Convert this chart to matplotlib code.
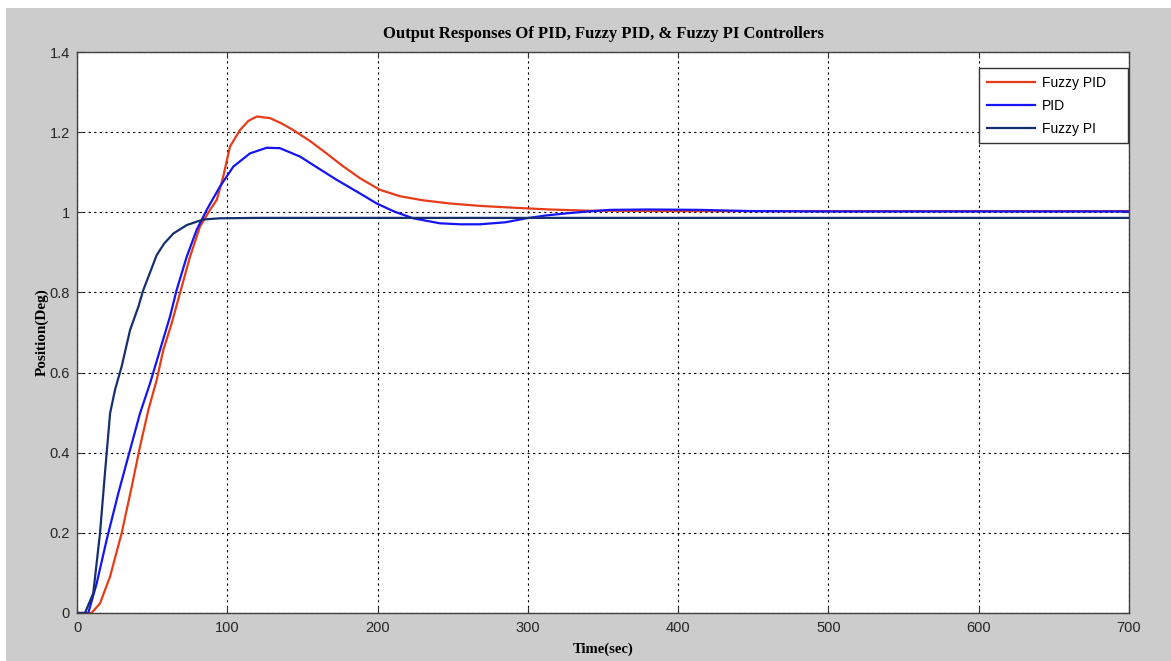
import matplotlib.pyplot as plt
from matplotlib.patches import Rectangle

# time (sec) and responses
t_fpid = [0, 9.7, 15.3, 22, 29.7, 36.4, 41.9, 47.5, 53, 57.4, 63, 68.5, 75.2, 81.8,
          88.5, 93, 97.3, 101.8, 108.4, 114, 119.6, 128.4, 136, 144, 155, 166, 177,
          188.3, 201.6, 215, 230, 248, 268, 292.5, 314.7, 340, 400, 500, 600, 700]
y_fpid = [0, 0, 0.024, 0.091, 0.199, 0.315, 0.415, 0.507, 0.581, 0.656, 0.723, 0.798,
          0.889, 0.964, 1.006, 1.031, 1.089, 1.164, 1.205, 1.228, 1.239, 1.235, 1.222,
          1.205, 1.178, 1.147, 1.115, 1.085, 1.056, 1.040, 1.030, 1.022, 1.016, 1.011,
          1.007, 1.004, 1.003, 1.003, 1.003, 1.003]

t_pid = [0, 7.5, 13.1, 19.7, 27.5, 35.3, 41.9, 48.6, 55.2, 61.9, 66.3, 73, 79.6, 86.3,
         95.1, 104, 115.1, 126.2, 135, 148.4, 166, 172.8, 188.3, 199.4, 211, 223.7,
         241.5, 255, 268, 285, 299, 312, 326, 340, 354.6, 380, 414, 448, 500, 600, 700]
y_pid = [0, 0, 0.074, 0.182, 0.299, 0.407, 0.498, 0.573, 0.656, 0.740, 0.806, 0.889,
         0.956, 1.006, 1.064, 1.114, 1.147, 1.161, 1.160, 1.139, 1.097, 1.081, 1.047,
         1.022, 1.002, 0.985, 0.9725, 0.970, 0.970, 0.975, 0.985, 0.992, 0.9975, 1.002,
         1.006, 1.007, 1.006, 1.003, 1.002, 1.002, 1.002]

t_fpi = [0, 5.3, 10.8, 15.3, 18.6, 22, 25.3, 29.7, 35.3, 40.8, 44.1, 47.5, 53, 58,
         64.1, 73, 84, 95, 120, 300, 500, 700]
y_fpi = [0, 0, 0.049, 0.199, 0.349, 0.498, 0.557, 0.615, 0.706, 0.764, 0.806, 0.839,
         0.893, 0.922, 0.947, 0.968, 0.982, 0.985, 0.986, 0.986, 0.986, 0.986]

xticks = [0, 100, 200, 300, 400, 500, 600, 700]
yticks = [0, 0.2, 0.4, 0.6, 0.8, 1, 1.2, 1.4]
ytick_labels = ['0', '0.2', '0.4', '0.6', '0.8', '1', '1.2', '1.4']

fig = plt.figure(figsize=(11.71, 6.61), dpi=100, facecolor='white')
# grey matlab figure background, small white margin top/left
fig.patches.append(Rectangle((6 / 1171, 0), 1, 1 - 8 / 661, transform=fig.transFigure,
                             facecolor='#cccccc', edgecolor='none', zorder=-10))

ax = fig.add_axes([77 / 1171, 1 - 613 / 661, 1052 / 1171, 561 / 661])
ax.set_facecolor('white')

ax.plot(t_fpid, y_fpid, color='#e63c18', lw=1.6, label='Fuzzy PID')
ax.plot(t_pid, y_pid, color='#1414f5', lw=1.6, label='PID')
ax.plot(t_fpi, y_fpi, color='#16306e', lw=1.6, label='Fuzzy PI')

ax.set_xlim(0, 700)
ax.set_ylim(0, 1.4)
ax.set_xticks(xticks)
ax.set_xticklabels([str(v) for v in xticks])
ax.set_yticks(yticks)
ax.set_yticklabels(ytick_labels)
ax.tick_params(direction='in', length=4, width=0.8, colors='#333333', labelsize=10.5,
               top=True, right=True)
ax.tick_params(axis='x', pad=6)
ax.tick_params(axis='y', pad=5)
for lab in ax.get_xticklabels() + ax.get_yticklabels():
    lab.set_family('Liberation Sans')
    lab.set_color('#262626')

ax.grid(True, color='black', linestyle=(0, (2, 3)), linewidth=0.8)
for s in ax.spines.values():
    s.set_color('#404040')
    s.set_linewidth(1.0)

ax.set_title('Output Responses Of PID, Fuzzy PID, & Fuzzy PI Controllers',
             family='Liberation Serif', fontweight='bold', fontsize=12, pad=10)
ax.set_xlabel('Time(sec)', family='Liberation Serif', fontweight='bold', fontsize=10.5,
              labelpad=5)
ax.set_ylabel('Position(Deg)', family='Liberation Serif', fontweight='bold', fontsize=11,
              labelpad=1)

leg = ax.legend(loc='upper left', bbox_to_anchor=(902 / 1052, 0.8, 149 / 1052, 1 - 16 / 561 - 0.8),
                mode='expand', borderaxespad=0,
                fancybox=False, framealpha=1, edgecolor='#333333', handlelength=3.5,
                handletextpad=0.45, labelspacing=0.65, borderpad=0.55,
                prop={'family': 'Liberation Sans', 'size': 10})
leg.get_frame().set_linewidth(1.0)

fig.savefig('out.png', dpi=100, facecolor=fig.get_facecolor())
